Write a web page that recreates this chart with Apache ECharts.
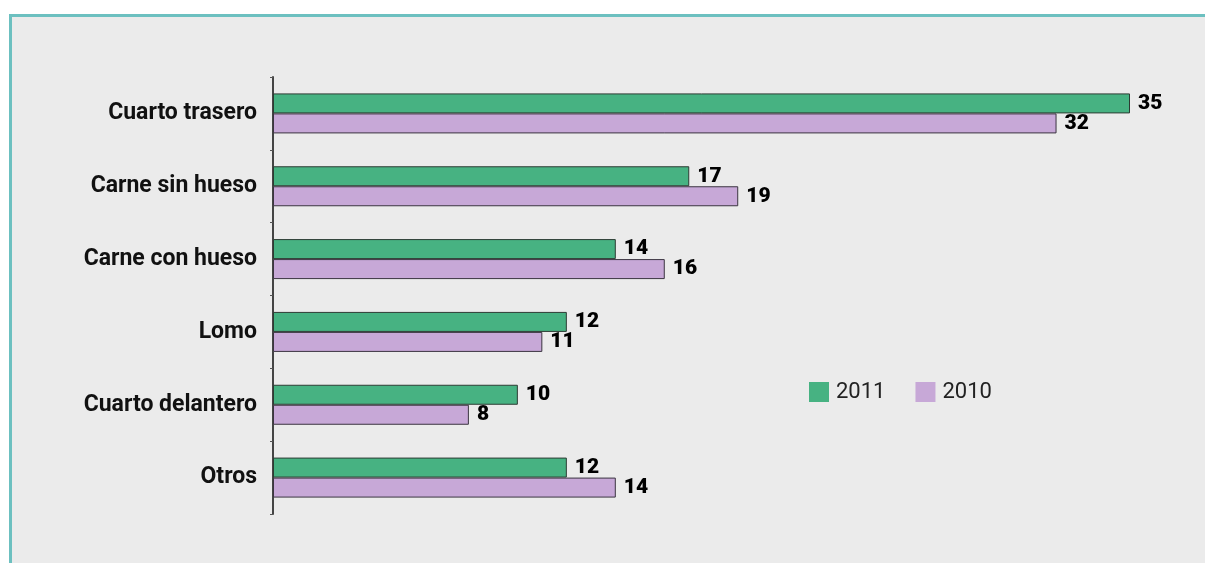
<!DOCTYPE html>
<html>
<head>
<meta charset="utf-8">
<script src="https://cdn.jsdelivr.net/npm/echarts@6/dist/echarts.min.js"></script>
<style>
html,body{margin:0;padding:0;background:#fff;}
#chart{width:1205px;height:563px;}
</style>
</head>
<body>
<div id="chart"></div>
<script>
const categories = ['Cuarto trasero', 'Carne sin hueso', 'Carne con hueso', 'Lomo', 'Cuarto delantero', 'Otros'];
const values2011 = [35, 17, 14, 12, 10, 12];
const values2010 = [32, 19, 16, 11, 8, 14];
const seriesNames = ['2011', '2010'];

const chart = echarts.init(document.getElementById('chart'));
const labelStyle = {
  show: true, position: 'right', distance: 8,
  fontFamily: 'Roboto', fontWeight: 900, fontSize: 21, color: '#000'
};
chart.setOption({
  animation: false,
  graphic: [
    { type: 'rect', z: -10, shape: { x: 10, y: 15, width: 1195, height: 548 }, style: { fill: '#ebebeb' } },
    { type: 'rect', z: -9, shape: { x: 9, y: 14, width: 1196, height: 3 }, style: { fill: '#6cc0c0' } },
    { type: 'rect', z: -9, shape: { x: 9, y: 14, width: 3, height: 549 }, style: { fill: '#6cc0c0' } }
  ],
  legend: {
    left: 804, top: 376,
    icon: 'rect', itemWidth: 20, itemHeight: 20, itemGap: 30,
    itemStyle: { borderWidth: 0 },
    textStyle: { fontFamily: 'Roboto', fontSize: 22, color: '#222', padding: [0, 0, 0, 2] },
    data: seriesNames
  },
  grid: { left: 273, top: 77, bottom: 49, right: 75 },
  xAxis: {
    type: 'value', min: 0, max: 35,
    show: false, splitLine: { show: false }
  },
  yAxis: {
    type: 'category', inverse: true, data: categories,
    axisLine: { show: true, lineStyle: { color: '#444', width: 2 } },
    axisTick: { show: true, length: 3, lineStyle: { color: '#555', width: 1 } },
    axisLabel: { margin: 16, fontFamily: 'Roboto', fontWeight: 'bold', fontSize: 23, color: '#111' }
  },
  series: [
    {
      name: seriesNames[0], type: 'bar', data: values2011,
      barWidth: 20, barGap: '0%',
      itemStyle: { color: '#47b282', borderColor: '#2c3b33', borderWidth: 1 },
      label: labelStyle
    },
    {
      name: seriesNames[1], type: 'bar', data: values2010,
      barWidth: 20, barGap: '0%',
      itemStyle: { color: '#c7a8d7', borderColor: '#3b3540', borderWidth: 1 },
      label: labelStyle
    }
  ]
});
</script>
</body>
</html>
